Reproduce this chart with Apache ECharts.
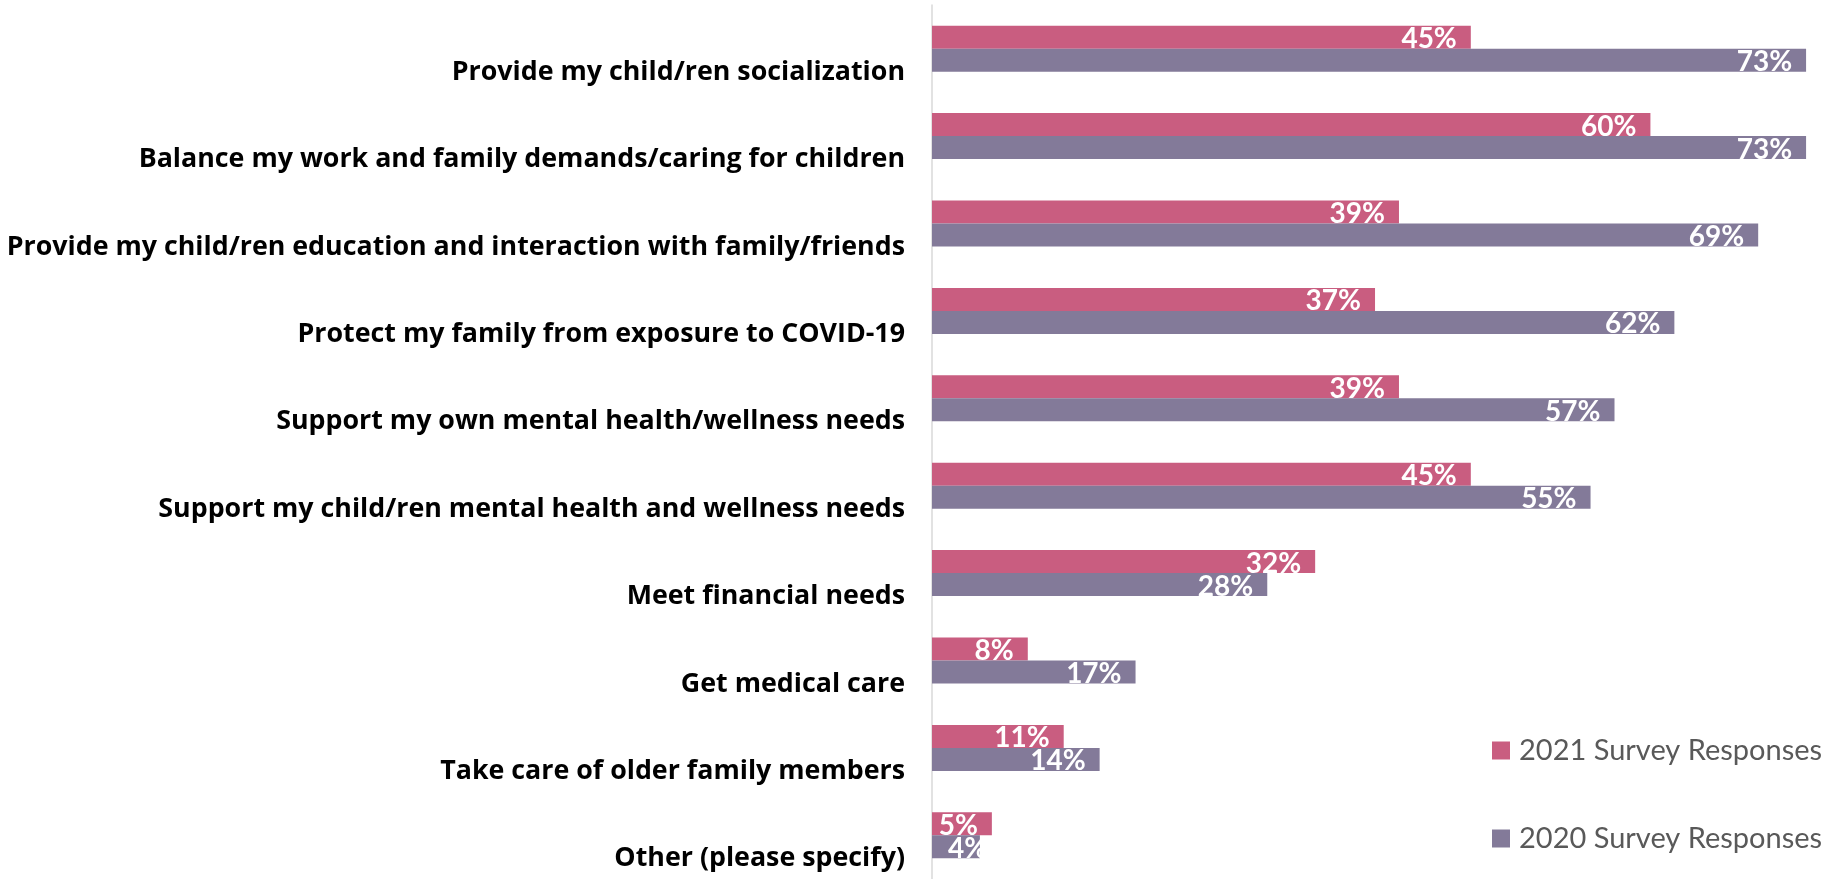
<!DOCTYPE html>
<html>
<head>
<meta charset="utf-8">
<style>
    html, body { margin: 0; padding: 0; background: #fff; }
    #chart { width: 1845px; height: 879px; }
</style>
<script src="https://cdn.jsdelivr.net/npm/echarts@6/dist/echarts.min.js"></script>
</head>
<body>
<div id="chart"></div>
<script>
// categories, top to bottom
const categories = [
    "Provide my child/ren socialization",
    "Balance my work and family demands/caring for children",
    "Provide my child/ren education and interaction with family/friends",
    "Protect my family from exposure to COVID-19",
    "Support my own mental health/wellness needs",
    "Support my child/ren mental health and wellness needs",
    "Meet financial needs",
    "Get medical care",
    "Take care of older family members",
    "Other (please specify)"
];
const seriesNames = ["2021 Survey Responses", "2020 Survey Responses"];
const values2021 = [45, 60, 39, 37, 39, 45, 32, 8, 11, 5];
const values2020 = [73, 73, 69, 62, 57, 55, 28, 17, 14, 4];

const pink = "#C95D80";
const purple = "#837A99";

const chart = echarts.init(document.getElementById("chart"));

function barSeries(name, data, color) {
    return {
        name: name,
        type: "bar",
        // tiny bars can't hold the label at their end, so pin it to the start
        data: data.map(v => v < 5 ? { value: v, label: { position: "insideLeft", distance: 16 } } : v),
        barWidth: 23,
        barGap: "0%",
        itemStyle: { color: color },
        label: {
            show: true,
            position: "insideRight",
            distance: 14,
            offset: [0, 2],
            color: "#fff",
            fontFamily: "Lato",
            fontWeight: "bold",
            fontSize: 28,
            formatter: (p) => p.value + "%"
        },
        emphasis: { disabled: true }
    };
}

chart.setOption({
    animation: false,
    textStyle: { fontFamily: "Lato" },
    grid: { left: 932, top: 5, width: 910, height: 879 },
    legend: {
        orient: "vertical",
        left: 1487,
        top: 731,
        itemGap: 59,
        itemWidth: 18,
        itemHeight: 18,
        icon: "rect",
        textStyle: { color: "#595959", fontSize: 29, fontFamily: "Lato", padding: [0, 0, 0, 4] },
        data: seriesNames
    },
    xAxis: {
        type: "value",
        min: 0,
        max: 76,
        show: false
    },
    yAxis: {
        type: "category",
        inverse: true,
        data: categories,
        axisLine: { show: true, lineStyle: { color: "#D9D9D9", width: 1.5 } },
        axisTick: { show: false },
        axisLabel: {
            margin: 27,
            color: "#000",
            fontFamily: "Open Sans",
            fontWeight: "bold",
            fontSize: 26.8,
            verticalAlign: "top",
            padding: [10, 0, 0, 0]
        }
    },
    series: [
        barSeries(seriesNames[0], values2021, pink),
        barSeries(seriesNames[1], values2020, purple)
    ]
});
</script>
</body>
</html>
